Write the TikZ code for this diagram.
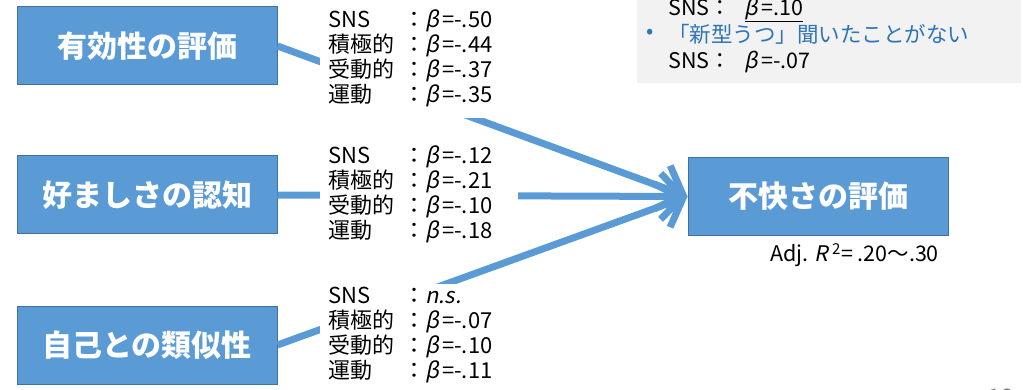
\documentclass[tikz,border=0pt]{standalone}
\usepackage{fontspec}
\setmainfont{Noto Sans CJK JP}
\newfontfamily\jpit[FakeSlant=0.2]{Noto Sans CJK JP}
\usetikzlibrary{arrows.meta}
\definecolor{boxfill}{RGB}{91,155,213}
\definecolor{boxline}{RGB}{65,113,156}
\definecolor{panel}{RGB}{242,242,242}
\definecolor{bluetext}{RGB}{46,117,182}
\newcommand{\bt}{{\jpit β}\hspace{3pt}}
\newcommand{\lrow}[2]{\makebox[75pt][l]{#1}：#2}
\begin{document}
\begin{tikzpicture}[x=1pt,y=-1pt,
  box/.style={draw=boxline,line width=1pt,fill=boxfill,minimum width=260pt,minimum height=78pt,text=white,font=\fontsize{30}{36}\selectfont\bfseries},
  arr/.style={draw=boxfill,line width=7pt,-{Straight Barb[length=22pt,width=46pt]}},
  lab/.style={fill=white,anchor=west,text width=182pt,align=left,inner xsep=8pt,inner ysep=0pt,font=\fontsize{22}{25}\selectfont},
  ptxt/.style={anchor=west,inner sep=0pt,font=\fontsize{21.5}{25}\selectfont},
]
\useasboundingbox (0,0) rectangle (1023,390);
% panel top right
\fill[panel] (637,-10) rectangle (1021,83);
\node[ptxt] (p1) at (668,9.5) {SNS：\hspace{14pt}\underline{\bt=.10}};
\node[ptxt,text=bluetext] (pb) at (646,34) {•};
\node[ptxt,text=bluetext] (p2) at (668,34) {「新型うつ」聞いたことがない};
\node[ptxt] (p3) at (668,62) {SNS：\hspace{14pt}\bt=-.07};
% boxes
\node[box] (b1) at (147,46) {有効性の評価};
\node[box] (b2) at (147,195) {好ましさの認知};
\node[box] (b3) at (147,345) {自己との類似性};
\node[box] (t) at (818,196.5) {不快さの評価};
% connectors
\draw[arr] (b1.east) -- (t.west);
\draw[arr] (b2.east) -- (t.west);
\draw[arr] (b3.east) -- (t.west);
% labels
\node[lab,minimum height=118pt] (l1) at (320,58.75) {\lrow{SNS}{\bt=-.50}\\\lrow{積極的}{\bt=-.44}\\\lrow{受動的}{\bt=-.37}\\\lrow{運動}{\bt=-.35}};
\node[lab,minimum height=100pt] (l2) at (320,194.5) {\lrow{SNS}{\bt=-.12}\\\lrow{積極的}{\bt=-.21}\\\lrow{受動的}{\bt=-.10}\\\lrow{運動}{\bt=-.18}};
\node[lab,minimum height=101pt] (l3) at (320,334.5) {\lrow{SNS}{{\jpit n.s.}}\\\lrow{積極的}{\bt=-.07}\\\lrow{受動的}{\bt=-.10}\\\lrow{運動}{\bt=-.11}};
\node[ptxt] (r2) at (770,255) {Adj. {\jpit R}\,\textsuperscript{2}= .20～.30};
\node[ptxt,text=gray] (pg) at (988,397) {16};
\end{tikzpicture}
\end{document}
